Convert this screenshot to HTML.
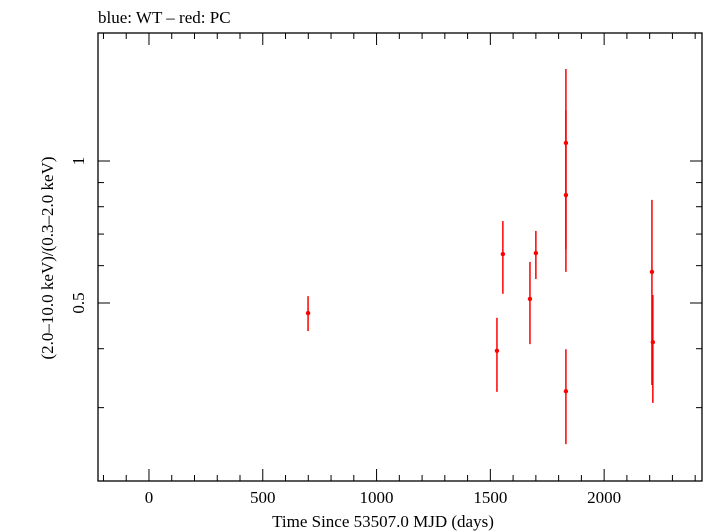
<!DOCTYPE html>
<html><head><meta charset="utf-8"><style>
body{margin:0;background:#fff}
svg{display:block;font-family:"Liberation Serif",serif}
</style></head><body>
<svg id="chart" width="705" height="532" viewBox="0 0 705 532" xmlns="http://www.w3.org/2000/svg">
<text x="98" y="23" font-size="17">blue: WT – red: PC</text>
<rect x="98" y="33" width="604" height="448" fill="none" stroke="#000" stroke-width="1.3"/>
<g id="axes"></g>
<g id="marks"></g>
<text x="383" y="527" font-size="17" text-anchor="middle">Time Since 53507.0 MJD (days)</text>
<text transform="translate(53,258) rotate(-90)" font-size="17" text-anchor="middle">(2.0–10.0 keV)/(0.3–2.0 keV)</text>
</svg>
<script>
const times=[699,1529,1555,1674,1700,1832,1832,1832,2210,2214];
const ratios=[0.476,0.396,0.635,0.510,0.638,1.092,0.847,0.325,0.582,0.413];
const errHi=[0.517,0.465,0.746,0.611,0.711,1.567,1.282,0.399,0.827,0.520];
const errLo=[0.436,0.324,0.523,0.409,0.562,0.65,0.582,0.251,0.335,0.307];
const xMajor=[0,500,1000,1500,2000];
const yMajor=[0.5,1];
const yMajorLabels=["0.5","1"];
const yMinor=[0.3,0.4,0.6,0.7,0.8,0.9];

const L=98,R=702,T=33,B=481;
const x0=-224,x1=2430;
const ppd=471.7, yRef=161;
function X(v){return L+(v-x0)/(x1-x0)*(R-L);}
function Y(v){return yRef-Math.log10(v)*ppd;}
const NS="http://www.w3.org/2000/svg";
const axes=document.getElementById('axes'), marks=document.getElementById('marks');
function mk(tag,attrs,parent){const e=document.createElementNS(NS,tag);for(const k in attrs)e.setAttribute(k,attrs[k]);parent.appendChild(e);return e;}
function line(x1_,y1_,x2_,y2_,name,parent,col,w){
  const e=mk('line',{x1:x1_,y1:y1_,x2:x2_,y2:y2_,stroke:col||'#000','stroke-width':w||1},parent);
  
  
  return e;
}
// x ticks
for(let v=-200;v<=2400;v+=100){
  const px=X(v); const major=(v%500===0); const len=major?12:6;
  line(px,B,px,B-len,'x-tick',axes);
  line(px,T,px,T+len,'x-tick-top',axes);
}
xMajor.forEach(v=>{
  const t=mk('text',{x:X(v),y:503,'font-size':17,'text-anchor':'middle'},axes);
  
  
  t.textContent=String(v);
});
yMajor.forEach((v,i)=>{
  const py=Y(v);
  line(L,py,L+12,py,'y-tick',axes);
  line(R,py,R-12,py,'y-tick-right',axes);
  const t=mk('text',{transform:`translate(84,${py}) rotate(-90)`,'font-size':17,'text-anchor':'middle'},axes);
  
  
  t.textContent=yMajorLabels[i];
});
yMinor.forEach(v=>{
  const py=Y(v);
  line(L,py,L+6,py,'y-minor-tick',axes);
  line(R,py,R-6,py,'y-minor-tick-right',axes);
});
// data
times.forEach((t,i)=>{
  const px=X(t);
  line(px,Y(errHi[i]),px,Y(errLo[i]),'error-bar',marks,'#f00',1.5);
  const c=mk('circle',{cx:px,cy:Y(ratios[i]),r:2.2,fill:'#f00'},marks);
  
  
});
</script>
</body></html>
